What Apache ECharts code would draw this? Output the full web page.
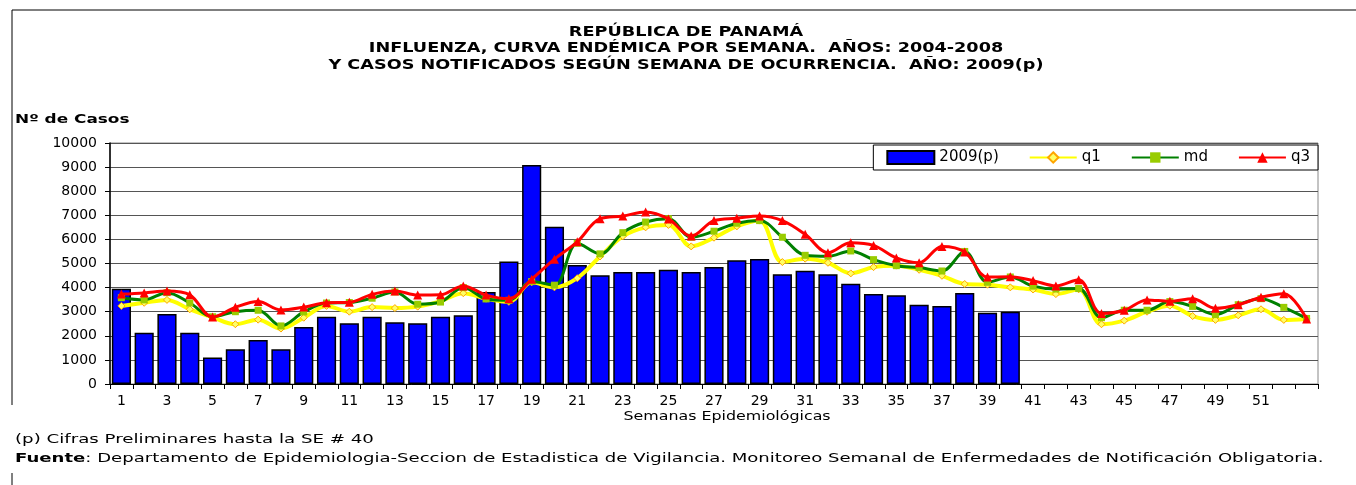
<!DOCTYPE html>
<html>
<head>
<meta charset="utf-8">
<title>Influenza Panamá</title>
<script src="https://cdn.jsdelivr.net/npm/echarts@6.0.0/dist/echarts.min.js"></script>
<style>
  html, body { margin: 0; padding: 0; background: #fff; }
  #chart { width: 1356px; height: 485px; }
</style>
</head>
<body>
<div id="chart"></div>
<script>
// semanas epidemiologicas 1..53
const weeks = ['1','2','3','4','5','6','7','8','9','10','11','12','13','14','15','16','17','18','19','20',
  '21','22','23','24','25','26','27','28','29','30','31','32','33','34','35','36','37','38','39','40',
  '41','42','43','44','45','46','47','48','49','50','51','52','53'];

// casos 2009 (p), hasta la SE 40
const cases2009 = [3950, 2130, 2900, 2130, 1100, 1440, 1830, 1440, 2370, 2790,
  2520, 2790, 2560, 2520, 2790, 2850, 3820, 5080, 9090, 6530,
  4940, 4510, 4650, 4650, 4740, 4650, 4850, 5130, 5190, 4550,
  4700, 4550, 4160, 3730, 3680, 3290, 3240, 3780, 2960, 3000];

// curva endemica 2004-2008
const q1 = [3240, 3370, 3490, 3100, 2770, 2480, 2670, 2300, 2750, 3240,
  3000, 3190, 3150, 3210, 3440, 3770, 3540, 3410, 4220, 4010,
  4390, 5290, 6130, 6500, 6600, 5710, 6070, 6540, 6780, 5060,
  5200, 5030, 4590, 4850, 4910, 4740, 4490, 4150, 4120, 4010,
  3920, 3730, 3930, 2480, 2630, 3000, 3250, 2820, 2660, 2850,
  3100, 2660, 2700];
const md = [3580, 3490, 3790, 3360, 2790, 3000, 3060, 2410, 2990, 3360,
  3380, 3560, 3820, 3310, 3400, 4000, 3530, 3470, 4250, 4100,
  5840, 5400, 6280, 6720, 6860, 6090, 6340, 6670, 6780, 6090,
  5340, 5300, 5520, 5160, 4910, 4830, 4690, 5500, 4220, 4440,
  4060, 3940, 3960, 2750, 3060, 3060, 3420, 3220, 2880, 3290,
  3540, 3180, 2720];
const q3 = [3730, 3780, 3860, 3700, 2780, 3180, 3420, 3070, 3190, 3370,
  3390, 3720, 3860, 3690, 3700, 4070, 3690, 3540, 4350, 5180,
  5900, 6860, 6970, 7140, 6850, 6140, 6780, 6880, 6970, 6780,
  6210, 5450, 5860, 5750, 5230, 5030, 5710, 5480, 4440, 4450,
  4290, 4070, 4330, 2930, 3060, 3490, 3430, 3540, 3140, 3290,
  3600, 3750, 2700];

const yMax = 10000;
const yStep = 1000;

const titleLines = [
  'REPÚBLICA DE PANAMÁ',
  'INFLUENZA, CURVA ENDÉMICA POR SEMANA.  AÑOS: 2004-2008',
  'Y CASOS NOTIFICADOS SEGÚN SEMANA DE OCURRENCIA.  AÑO: 2009(p)'
];
const titleY = [32, 48, 65];

const font = 'DejaVu Sans';
const chart = echarts.init(document.getElementById('chart'));

// texto estirado a lo ancho, como en la hoja original
const wideText = (x, y, text, size, bold, sx, align, rich) => ({
  type: 'text',
  x: x,
  y: y,
  scaleX: sx,
  silent: true,
  style: {
    x: 0,
    y: 0,
    text: text,
    fontFamily: font,
    fontSize: size,
    fontWeight: bold ? 'bold' : 'normal',
    fill: '#000',
    align: align || 'left',
    verticalAlign: 'middle',
    rich: rich
  }
});

const graphics = [
  // marco de la hoja
  { type: 'line', silent: true, shape: { x1: 12, y1: 10, x2: 1356, y2: 10 }, style: { stroke: '#000', lineWidth: 1 } },
  { type: 'line', silent: true, shape: { x1: 12, y1: 10, x2: 12, y2: 405 }, style: { stroke: '#000', lineWidth: 1 } },
  { type: 'line', silent: true, shape: { x1: 12, y1: 473, x2: 12, y2: 485 }, style: { stroke: '#000', lineWidth: 1 } },
  wideText(15, 120, 'Nº de Casos', 13, true, 1.3),
  wideText(727, 417, 'Semanas Epidemiológicas', 13, false, 1.22, 'center'),
  wideText(15, 440, '(p) Cifras Preliminares hasta la SE # 40', 13, false, 1.4),
  wideText(15, 459,
    '{b|Fuente}: Departamento de Epidemiologia-Seccion de Estadistica de Vigilancia. Monitoreo Semanal de Enfermedades de Notificación Obligatoria.',
    13, false, 1.39, 'left',
    { b: { fontWeight: 'bold', fontFamily: font, fontSize: 13, fill: '#000' } })
];
titleLines.forEach((t, i) => graphics.push(wideText(686, titleY[i], t, 14, true, 1.26, 'center')));

const option = {
  backgroundColor: '#fff',
  animation: false,
  legend: {
    right: 38,
    top: 145,
    orient: 'horizontal',
    itemWidth: 47,
    itemHeight: 13,
    itemGap: 30,
    padding: [5, 8, 5, 13],
    borderColor: '#000',
    borderWidth: 1,
    backgroundColor: '#fff',
    textStyle: { fontFamily: font, fontSize: 15, color: '#000' },
    data: [{ name: '2009(p)', icon: 'rect' }, 'q1', 'md', 'q3']
  },
  grid: {
    left: 110,
    right: 38,
    top: 143,
    bottom: 101,
    show: true,
    borderColor: '#888',
    borderWidth: 1
  },
  xAxis: {
    type: 'category',
    data: weeks,
    boundaryGap: true,
    axisLine: { lineStyle: { color: '#000', width: 1 } },
    axisTick: { show: true, interval: 0, length: 5, lineStyle: { color: '#000' } },
    axisLabel: {
      // solo impares, sin la 53
      interval: (i) => i % 2 === 0 && i < 52,
      fontFamily: font,
      fontSize: 14,
      color: '#000',
      margin: 10
    },
    splitLine: { show: false }
  },
  yAxis: {
    type: 'value',
    min: 0,
    max: yMax,
    interval: yStep,
    axisLine: { show: true, lineStyle: { color: '#000', width: 1.5 } },
    axisTick: { show: true, length: 5, lineStyle: { color: '#000' } },
    axisLabel: { fontFamily: font, fontSize: 14, color: '#000', margin: 13, formatter: (v) => String(v) },
    splitLine: { lineStyle: { color: '#555', width: 1 } }
  },
  series: [
    {
      name: '2009(p)',
      type: 'bar',
      data: cases2009,
      barCategoryGap: '16%',
      itemStyle: { color: '#0000FF', borderColor: '#000', borderWidth: 1.5 },
      z: 2
    },
    {
      name: 'q1',
      type: 'line',
      data: q1,
      smooth: 0.35,
      symbol: 'diamond',
      symbolSize: 7,
      lineStyle: { color: '#FFFF00', width: 4 },
      itemStyle: { color: '#FFFF66', borderColor: '#FFA500', borderWidth: 1 },
      z: 3
    },
    {
      name: 'md',
      type: 'line',
      data: md,
      smooth: 0.35,
      symbol: 'rect',
      symbolSize: 7,
      lineStyle: { color: '#008000', width: 3 },
      itemStyle: { color: '#99CC00' },
      z: 4
    },
    {
      name: 'q3',
      type: 'line',
      data: q3,
      smooth: 0.35,
      symbol: 'triangle',
      symbolSize: 9,
      lineStyle: { color: '#FF0000', width: 3 },
      itemStyle: { color: '#FF0000' },
      z: 5
    }
  ],
  graphic: graphics
};

chart.setOption(option);
</script>
</body>
</html>
